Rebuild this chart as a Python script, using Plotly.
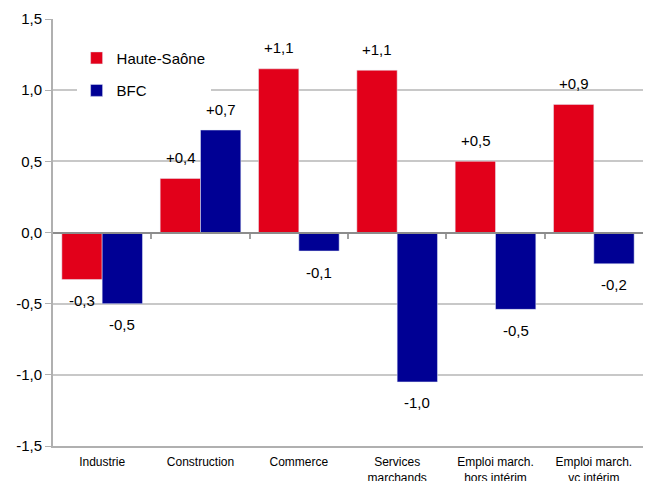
import plotly.graph_objects as go

categories = ["Industrie", "Construction", "Commerce", "Services<br>marchands",
              "Emploi march.<br>hors intérim", "Emploi march.<br>vc intérim"]
haute_saone = [-0.33, 0.38, 1.15, 1.14, 0.50, 0.90]
bfc = [-0.50, 0.72, -0.13, -1.05, -0.54, -0.22]
haute_saone_labels = ["-0,3", "+0,4", "+1,1", "+1,1", "+0,5", "+0,9"]
bfc_labels = ["-0,5", "+0,7", "-0,1", "-1,0", "-0,5", "-0,2"]
y_ticks = [-1.5, -1.0, -0.5, 0.0, 0.5, 1.0, 1.5]
y_ticktext = ["-1,5", "-1,0", "-0,5", "0,0", "0,5", "1,0", "1,5"]

RED = "#E2001A"
BLUE = "#000094"
FONT = "Arial, Liberation Sans, sans-serif"

fig = go.Figure()
fig.add_trace(go.Bar(x=categories, y=haute_saone, name="Haute-Saône",
                     marker=dict(color=RED), legendgroup="hs"))
fig.add_trace(go.Bar(x=categories, y=bfc, name="BFC",
                     marker=dict(color=BLUE), legendgroup="bfc"))

# category separators on the zero line
fig.add_trace(go.Scatter(x=[], y=[], xaxis="x2", showlegend=False, hoverinfo="skip"))

# value labels
for vals, labels, shift in [(haute_saone, haute_saone_labels, -20), (bfc, bfc_labels, 20)]:
    for cat, v, lab in zip(categories, vals, labels):
        fig.add_annotation(x=cat, y=v, text=lab, showarrow=False,
                           xshift=shift, yshift=21 if v >= 0 else -21,
                           font=dict(size=15, color="#000", family=FONT))

# page body has an 8px margin, so the figure is sized to the visible area
fig.update_layout(
    width=643, height=473,
    margin=dict(l=45, r=8, t=11, b=35),
    paper_bgcolor="white", plot_bgcolor="white",
    font=dict(family=FONT, color="#000"),
    barmode="group", bargap=0.18, bargroupgap=0,
    showlegend=True,
    legend=dict(x=0.04, y=0.947, xanchor="left", yanchor="top",
                bgcolor="white", font=dict(size=15),
                traceorder="grouped", tracegroupgap=10,
                itemwidth=30),
    xaxis=dict(showline=True, linecolor="#b0b0b0", linewidth=2,
               ticks="", showgrid=False, tickfont=dict(size=12),
               ticklabelstandoff=4, automargin=False, fixedrange=True),
    xaxis2=dict(overlaying="x", anchor="free", position=0.5,
                range=[-0.5, 5.5], tickvals=[0.5, 1.5, 2.5, 3.5, 4.5],
                ticks="outside", ticklen=5, tickcolor="#a0a0a0", tickwidth=1.5,
                showticklabels=False, showgrid=False, automargin=False,
                showline=True, linecolor="#8c8c8c", linewidth=2, zeroline=False),
    yaxis=dict(range=[-1.5, 1.5], tickvals=y_ticks, ticktext=y_ticktext,
               showgrid=True, gridcolor="#c8c8c8", gridwidth=1.5,
               zeroline=False, showline=True, linecolor="#b0b0b0", linewidth=2,
               ticks="outside", ticklen=6, tickcolor="#b0b0b0",
               tickfont=dict(size=15), automargin=False),
)

fig.write_html("out.html")
